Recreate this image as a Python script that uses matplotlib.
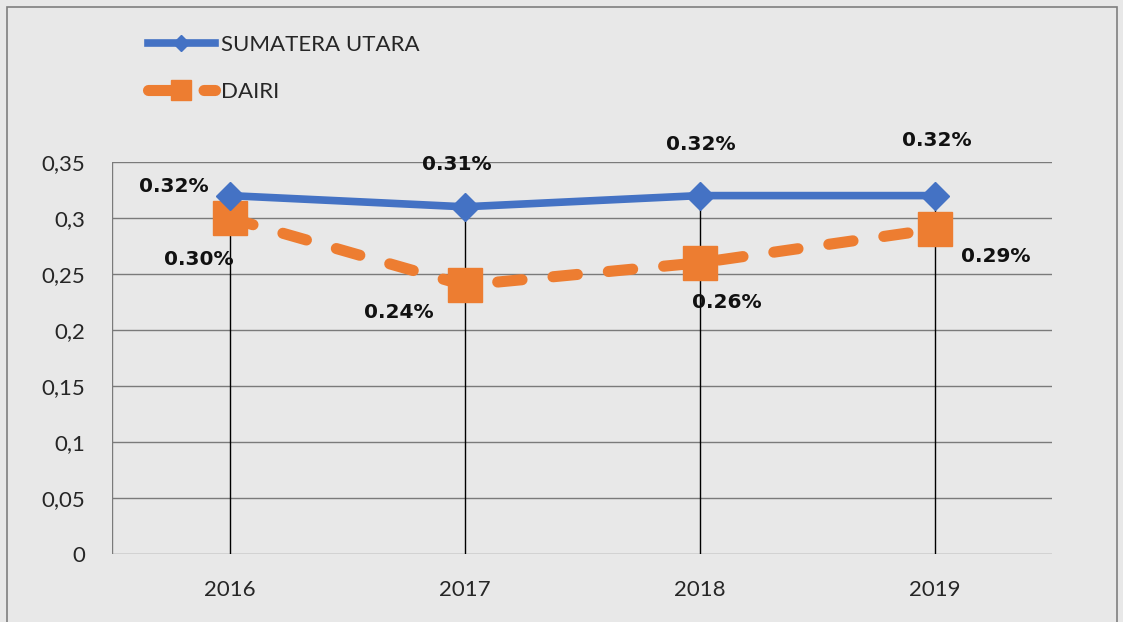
import numpy as np
import matplotlib.pyplot as plt
from matplotlib.patches import Rectangle

# data
years = ['2016', '2017', '2018', '2019']
sumut = [0.32, 0.31, 0.32, 0.32]
dairi = [0.30, 0.24, 0.26, 0.29]
sumut_labels = ['0.32%', '0.31%', '0.32%', '0.32%']
dairi_labels = ['0.30%', '0.24%', '0.26%', '0.29%']
yticks = [0, 0.05, 0.1, 0.15, 0.2, 0.25, 0.3, 0.35]
ytick_labels = ['0', '0,05', '0,1', '0,15', '0,2', '0,25', '0,3', '0,35']

plt.rcParams['font.family'] = ['Lato', 'DejaVu Sans']

fig = plt.figure(figsize=(11.23, 6.22), dpi=100)
fig.patch.set_facecolor('#e8e8e8')
fig.patches.append(Rectangle((7 / 1123, -0.01), 1110 / 1123, 1 - 7 / 622 + 0.01,
                             transform=fig.transFigure, fill=False,
                             edgecolor='#7f7f7f', linewidth=1.2))

ax = fig.add_axes([112 / 1123, 68 / 622, 940 / 1123, 392 / 622])
ax.set_facecolor('none')
x = np.arange(len(years))

# gridlines
for y in yticks:
    ax.axhline(y, color='#7a7a7a', linewidth=1.0, zorder=1)
ax.axvline(-0.5, color='#7a7a7a', linewidth=1.0, zorder=1)

# drop lines
ax.vlines(x, 0, np.maximum(sumut, dairi), color='black', linewidth=1.0, zorder=2)

ax.plot(x, dairi, color='#ED7D31', linewidth=8, linestyle=(0, (2.2, 2.8)),
        dash_capstyle='round', marker='s', markersize=25, label='DAIRI', zorder=3)
ax.plot(x, sumut, color='#4472C4', linewidth=5.5, marker='D', markersize=14,
        label='SUMATERA UTARA', zorder=4)

s_off = [(-56, 9), (-8, 42), (1, 51), (2, 55)]
d_off = [(-31, -42), (-66, -27), (27, -40), (61, -27)]
for i in range(len(years)):
    ax.annotate(sumut_labels[i], (x[i], sumut[i]), xytext=s_off[i],
                textcoords='offset pixels', ha='center', va='center',
                fontsize=14.5, fontweight='bold', family='DejaVu Sans',
                color='#111111', zorder=5)
    ax.annotate(dairi_labels[i], (x[i], dairi[i]), xytext=d_off[i],
                textcoords='offset pixels', ha='center', va='center',
                fontsize=14.5, fontweight='bold', family='DejaVu Sans',
                color='#111111', zorder=5)

ax.set_xlim(-0.5, 3.5)
ax.set_ylim(0, 0.35)
ax.set_xticks(x)
ax.set_xticklabels(years)
ax.set_yticks(yticks)
ax.set_yticklabels(ytick_labels)
ax.tick_params(length=0, labelsize=16, labelcolor='#262626')
ax.tick_params(axis='y', pad=19)
ax.tick_params(axis='x', pad=19)
for s in ax.spines.values():
    s.set_visible(False)

handles, labels = ax.get_legend_handles_labels()
fig.legend(handles[::-1], labels[::-1], loc='upper left',
           bbox_to_anchor=(137 / 1123, 1 - 24 / 622), frameon=False,
           fontsize=16, handlelength=3.0, labelspacing=1.2, borderpad=0,
           handletextpad=0.3, labelcolor='#262626', markerscale=0.55)

fig.savefig('out.png', dpi=100, facecolor=fig.get_facecolor())
